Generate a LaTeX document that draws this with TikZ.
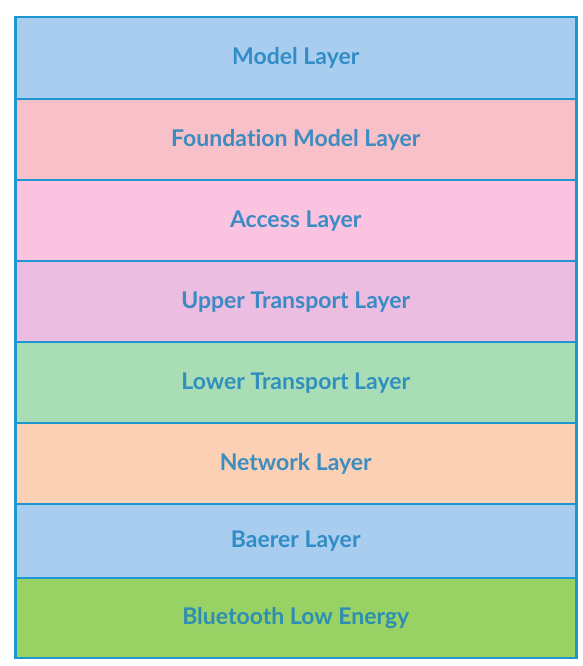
\documentclass[tikz,border=0pt]{standalone}
\usepackage{fontspec}
\setmainfont[Ligatures=NoCommon]{Lato}
\definecolor{bordc}{HTML}{1E96D2}
\definecolor{txtc}{HTML}{1C82C0}
\definecolor{cmodel}{HTML}{A9CDEF}
\definecolor{cfound}{HTML}{F8C0C8}
\definecolor{caccess}{HTML}{FAC4E0}
\definecolor{cupper}{HTML}{EBBDE0}
\definecolor{clower}{HTML}{A9DDB5}
\definecolor{cnet}{HTML}{FBD0B5}
\definecolor{cbaer}{HTML}{A9CDEF}
\definecolor{cble}{HTML}{98D164}
\begin{document}
\begin{tikzpicture}[x=1pt,y=1pt,
  layer/.style={draw=bordc,line width=2.5pt,minimum width=561pt,inner sep=0pt,anchor=north west,
    font=\fontsize{23}{27}\selectfont\bfseries,text=txtc,text opacity=0.85}]
\useasboundingbox (0,0) rectangle (582,666);
\fill[white] (0,0) rectangle (582,666);
\node[layer,fill=cmodel,minimum height=82pt] (l1) at (14,650) {Model Layer};
\node[layer,fill=cfound,minimum height=81pt] (l2) at (14,568) {Foundation Model Layer};
\node[layer,fill=caccess,minimum height=81pt] (l3) at (14,487) {Access Layer};
\node[layer,fill=cupper,minimum height=81pt] (l4) at (14,406) {Upper Transport Layer};
\node[layer,fill=clower,minimum height=81pt] (l5) at (14,325) {Lower Transport Layer};
\node[layer,fill=cnet,minimum height=81pt] (l6) at (14,244) {Network Layer};
\node[layer,fill=cbaer,minimum height=74pt] (l7) at (14,163) {Baerer Layer};
\node[layer,fill=cble,minimum height=80pt] (l8) at (14,89) {Bluetooth Low Energy};
\end{tikzpicture}
\end{document}
